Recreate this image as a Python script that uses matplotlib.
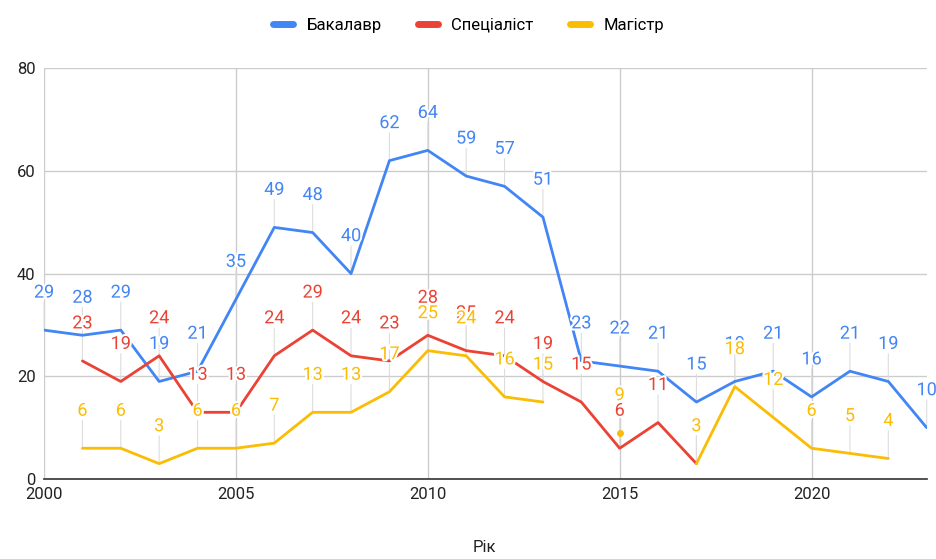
import matplotlib.pyplot as plt
import matplotlib.patheffects as pe
import numpy as np

plt.rcParams['font.family'] = ['Roboto', 'DejaVu Sans']

years = list(range(2000, 2024))
nan = np.nan

bachelor = [29, 28, 29, 19, 21, 35, 49, 48, 40, 62, 64, 59, 57, 51,
            23, 22, 21, 15, 19, 21, 16, 21, 19, 10]
specialist = [nan, 23, 19, 24, 13, 13, 24, 29, 24, 23, 28, 25, 24, 19,
              15, 6, 11, 3, nan, nan, nan, nan, nan, nan]
master = [nan, 6, 6, 3, 6, 6, 7, 13, 13, 17, 25, 24, 16, 15,
          nan, 9, nan, 3, 18, 12, 6, 5, 4, nan]

series = [
    ("Бакалавр", bachelor, "#4285F4"),
    ("Спеціаліст", specialist, "#EA4335"),
    ("Магістр", master, "#FBBC04"),
]

fig = plt.figure(figsize=(9.37, 5.59), dpi=100)
ax = fig.add_axes([0.047, 0.143, 0.942, 0.735])

for name, vals, color in series:
    ax.plot(years, vals, color=color, lw=2.0, label=name, zorder=3,
            solid_joinstyle='round', solid_capstyle='round')

# isolated points (no neighbours) get a dot
for name, vals, color in series:
    for i, v in enumerate(vals):
        if np.isnan(v):
            continue
        prev_nan = i == 0 or np.isnan(vals[i - 1])
        next_nan = i == len(vals) - 1 or np.isnan(vals[i + 1])
        if prev_nan and next_nan:
            ax.plot(years[i], v, 'o', color=color, ms=4, zorder=3)

# leader lines and value labels
for name, vals, color in series:
    for x, v in zip(years, vals):
        if np.isnan(v):
            continue
        ax.annotate("", xy=(x, v), xytext=(0, 20), textcoords="offset points",
                    arrowprops=dict(arrowstyle='-', color='#dddddd', lw=0.8,
                                    shrinkA=0, shrinkB=0),
                    zorder=1, annotation_clip=False)
for name, vals, color in series:
    for x, v in zip(years, vals):
        if np.isnan(v):
            continue
        ax.annotate(f"{int(v)}", xy=(x, v), xytext=(0, 27),
                    textcoords="offset points", ha='center', va='center',
                    fontsize=13, color=color, zorder=5,
                    annotation_clip=False,
                    path_effects=[pe.withStroke(linewidth=3, foreground='white')])

ax.set_xlim(2000, 2023)
ax.set_ylim(0, 80)
ax.set_xticks([2000, 2005, 2010, 2015, 2020])
ax.set_yticks([0, 20, 40, 60, 80])
ax.grid(True, color='#cccccc', lw=1)
ax.set_axisbelow(True)
ax.tick_params(length=0, labelsize=12, colors='#222222', pad=6)
for s in ['top', 'right', 'left']:
    ax.spines[s].set_visible(False)
ax.spines['bottom'].set_color('#333333')
ax.spines['bottom'].set_linewidth(1.2)
ax.spines['bottom'].set_zorder(4)

fig.text(0.517, 0.02, "Рік", fontsize=12, color='#222222',
         ha='center', va='center')

fig.legend(loc='upper center', bbox_to_anchor=(0.5, 0.995), ncol=3,
           frameon=False, fontsize=12, handlelength=1.2, handletextpad=0.8,
           columnspacing=2.2)
for line in fig.legends[0].get_lines():
    line.set_linewidth(5)
    line.set_solid_capstyle('round')

fig.savefig("out.png", dpi=100)
